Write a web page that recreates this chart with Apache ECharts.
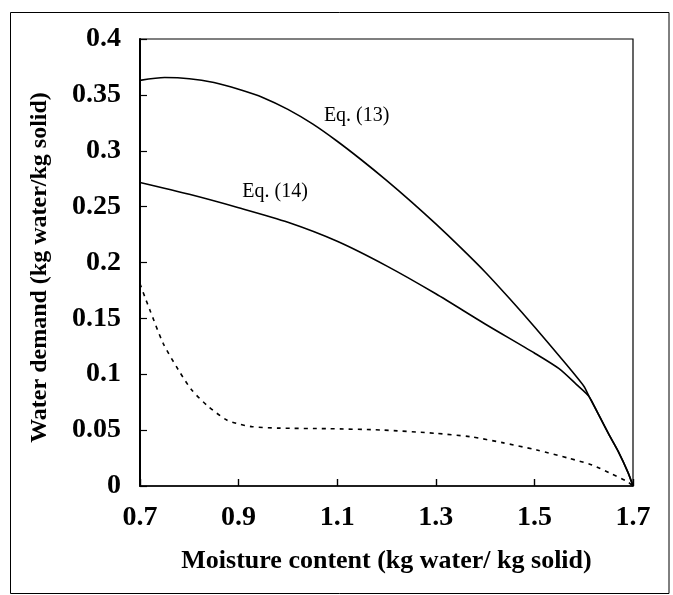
<!DOCTYPE html>
<html>
<head>
<meta charset="utf-8">
<script src="https://cdn.jsdelivr.net/npm/echarts@6/dist/echarts.min.js"></script>
<style>
html,body{margin:0;padding:0;background:#fff;}
#chart{width:673px;height:595px;}
</style>
</head>
<body>
<div id="chart"></div>
<script>
// X tick values and Y axis range
const xTicks = [0.7, 0.9, 1.1, 1.3, 1.5, 1.7];
const yTicks = [0, 0.05, 0.1, 0.15, 0.2, 0.25, 0.3, 0.35, 0.4];

// Eq. (13)
const eq13X = [0.70, 0.75, 0.80, 0.85, 0.90, 0.95, 1.00, 1.05, 1.10, 1.15, 1.20, 1.25, 1.30, 1.35, 1.40, 1.45, 1.50, 1.55, 1.60, 1.611, 1.63, 1.65, 1.67, 1.69, 1.70];
const eq13Y = [0.363, 0.3655, 0.3645, 0.361, 0.355, 0.3475, 0.337, 0.324, 0.3085, 0.2915, 0.2735, 0.2545, 0.2345, 0.2135, 0.1915, 0.1675, 0.1425, 0.1165, 0.0895, 0.080, 0.064, 0.047, 0.031, 0.012, 0.0];

// Eq. (14)
const eq14X = [0.70, 0.80, 0.90, 1.00, 1.10, 1.20, 1.30, 1.40, 1.50, 1.55, 1.585, 1.611, 1.63, 1.65, 1.67, 1.69, 1.70];
const eq14Y = [0.2716, 0.261, 0.249, 0.236, 0.219, 0.197, 0.172, 0.145, 0.119, 0.105, 0.091, 0.080, 0.064, 0.047, 0.031, 0.012, 0.0];

// dashed curve
const dashX = [0.700, 0.710, 0.720, 0.747, 0.778, 0.805, 0.839, 0.876, 0.900, 0.927, 0.980, 1.080, 1.190, 1.300, 1.370, 1.435, 1.505, 1.570, 1.617, 1.657, 1.689, 1.700];
const dashY = [0.181, 0.169, 0.1575, 0.1277, 0.1038, 0.0859, 0.071, 0.059, 0.0555, 0.0531, 0.0518, 0.0513, 0.0501, 0.0471, 0.0441, 0.0388, 0.0322, 0.0248, 0.0188, 0.0107, 0.0039, 0.0];

// curve annotations
const annoText = ['Eq. (13)', 'Eq. (14)'];
const annoX = [1.1395, 0.974];
const annoY = [0.3314, 0.263];

const pairs = (xs, ys) => xs.map((x, i) => [x, ys[i]]);
const serif = '"Liberation Serif", "Times New Roman", serif';

const chart = echarts.init(document.getElementById('chart'), null, {renderer: 'canvas'});
const lineBase = {
  type: 'line', showSymbol: false, symbol: 'none', smooth: 0.25,
  animation: false, silent: true
};
chart.setOption({
  backgroundColor: '#ffffff',
  animation: false,
  grid: {left: 140, right: 40, top: 39, bottom: 109, show: true, borderColor: '#000', borderWidth: 1.2, backgroundColor: 'transparent'},
  xAxis: {
    type: 'value', min: 0.7, max: 1.7,
    name: 'Moisture content (kg water/ kg solid)',
    nameLocation: 'middle', nameGap: 62,
    nameTextStyle: {fontFamily: serif, fontWeight: 'bold', fontSize: 26, color: '#000'},
    axisLine: {show: true, onZero: false, lineStyle: {color: '#000', width: 1.6}},
    axisTick: {show: true, inside: true, length: 7, customValues: xTicks, lineStyle: {color: '#000', width: 1.4}},
    axisLabel: {customValues: xTicks, fontFamily: serif, fontWeight: 'bold', fontSize: 28, color: '#000', margin: 18,
      formatter: v => String(Math.round(v * 10) / 10)},
    splitLine: {show: false}
  },
  yAxis: {
    type: 'value', min: 0, max: 0.4, interval: 0.05,
    name: 'Water demand (kg water/kg solid)',
    nameLocation: 'middle', nameGap: 88,
    nameTextStyle: {fontFamily: serif, fontWeight: 'bold', fontSize: 24, color: '#000', padding: [0, 10, 0, 0]},
    axisLine: {show: true, lineStyle: {color: '#000', width: 2}},
    axisTick: {show: true, inside: true, length: 7, lineStyle: {color: '#000', width: 1.2}},
    axisLabel: {fontFamily: serif, fontWeight: 'bold', fontSize: 28, color: '#000', margin: 19,
      formatter: v => String(Math.round(v * 100) / 100)},
    splitLine: {show: false}
  },
  graphic: [{
    type: 'rect', silent: true,
    shape: {x: 10.5, y: 12.5, width: 658.5, height: 581},
    style: {fill: 'none', stroke: '#000', lineWidth: 1}
  }],
  series: [
    Object.assign({}, lineBase, {
      name: 'Eq. (13)', data: pairs(eq13X, eq13Y),
      lineStyle: {color: '#000', width: 1.6},
      markPoint: {
        symbol: 'circle', symbolSize: 0, silent: true,
        data: annoText.map((t, i) => ({
          coord: [annoX[i], annoY[i]],
          label: {show: true, formatter: t, position: 'inside', fontFamily: serif, fontSize: 20, color: '#000'}
        }))
      }
    }),
    Object.assign({}, lineBase, {
      name: 'Eq. (14)', data: pairs(eq14X, eq14Y),
      lineStyle: {color: '#000', width: 1.6}
    }),
    Object.assign({}, lineBase, {
      name: 'dashed', data: pairs(dashX, dashY),
      lineStyle: {color: '#000', width: 1.6, type: [4, 5]}
    })
  ]
});
</script>
</body>
</html>
